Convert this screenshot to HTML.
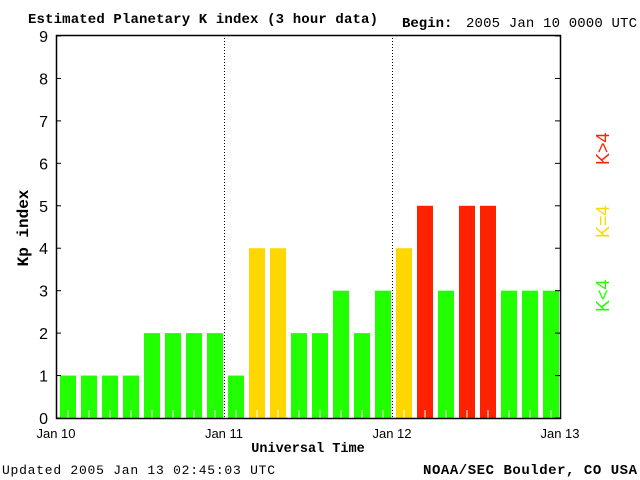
<!DOCTYPE html>
<html><head><meta charset="utf-8"><style>
body{margin:0;background:#fff;}
svg{display:block;font-family:"Liberation Mono",monospace;}
</style></head><body>
<svg id="chart" width="640" height="480" viewBox="0 0 640 480">
<text x="28" y="23" font-size="14" font-weight="bold" textLength="350">Estimated Planetary K index (3 hour data)</text>
<text x="402" y="27" font-size="14" font-weight="bold">Begin:</text>
<text x="466" y="27" font-size="14" textLength="171">2005 Jan 10 0000 UTC</text>
<text transform="translate(28,228) rotate(-90)" text-anchor="middle" font-size="16" font-weight="bold">Kp index</text>
<text x="308" y="452" text-anchor="middle" font-size="13.5" font-weight="bold">Universal Time</text>
<text x="2" y="474" font-size="13" textLength="273">Updated 2005 Jan 13 02:45:03 UTC</text>
<text x="423" y="474" font-size="14" font-weight="bold" textLength="214">NOAA/SEC Boulder, CO USA</text>
<g font-size="18" font-family="Liberation Sans,sans-serif">
<text transform="translate(609,165) rotate(-90)" fill="#ff2200">K&gt;4</text>
<text transform="translate(609,238) rotate(-90)" fill="#ffd700">K=4</text>
<text transform="translate(609,312) rotate(-90)" fill="#22ff00">K&lt;4</text>
</g>
<g id="bars"></g>
<g id="axes"></g>
</svg>
<script>
const kpValues=[1,1,1,1,2,2,2,2, 1,4,4,2,2,3,2,3, 4,5,3,5,5,3,3,3];
const yTicks=[0,1,2,3,4,5,6,7,8,9];
const dayLabels=["Jan 10","Jan 11","Jan 12","Jan 13"];
const NS="http://www.w3.org/2000/svg";
const PL=56,PR=560,PT=35,PB=418,Y0=418,UNIT=(418-36)/9;
const yScale=v=>Y0-v*UNIT;
const xScale=i=>PL+i*(PR-PL)/kpValues.length;
function mk(t,a,p){const e=document.createElementNS(NS,t);for(const k in a)e.setAttribute(k,a[k]);p.appendChild(e);return e;}
const barsG=document.getElementById('bars'),axesG=document.getElementById('axes');
kpValues.forEach((v,i)=>{
 const c=v>4?"#ff2200":(v==4?"#ffd700":"#22ff00");
 const r=mk('rect',{x:xScale(i)+4,y:yScale(v),width:16,height:PB-yScale(v),fill:c},barsG);
 
 
 const tk=mk('line',{x1:xScale(i)+12,x2:xScale(i)+12,y1:PB-8,y2:PB,stroke:"#fff"},barsG);
 
 
});
for(let d=1;d<dayLabels.length-1;d++){
 const xx=PL+d*(PR-PL)/(dayLabels.length-1)+0.5;
 const dl=mk('line',{x1:xx,x2:xx,y1:PT,y2:PB,stroke:"#000","stroke-dasharray":"1,2"},axesG);
 
 
}
const frame=mk('rect',{x:PL+0.5,y:PT+0.5,width:PR-PL,height:PB-PT,stroke:"#000",fill:"none","stroke-width":1.5},axesG);


yTicks.forEach(v=>{
 const tk=mk('line',{x1:PL,x2:PL+5,y1:yScale(v),y2:yScale(v),stroke:"#000"},axesG);
 
 
 const tr=mk('line',{x1:PR-5,x2:PR,y1:yScale(v),y2:yScale(v),stroke:"#000"},axesG);
 
 
 const t=mk('text',{x:PL-8,y:yScale(v)+6,"text-anchor":"end","font-size":"16","font-family":"Liberation Sans,sans-serif"},axesG);
 t.textContent=v;
 
 
});
dayLabels.forEach((s,d)=>{
 const t=mk('text',{x:PL+d*(PR-PL)/(dayLabels.length-1),y:438,"text-anchor":"middle","font-size":"13","font-family":"Liberation Sans,sans-serif"},axesG);
 t.textContent=s;
 
 
});
</script>
</body></html>
